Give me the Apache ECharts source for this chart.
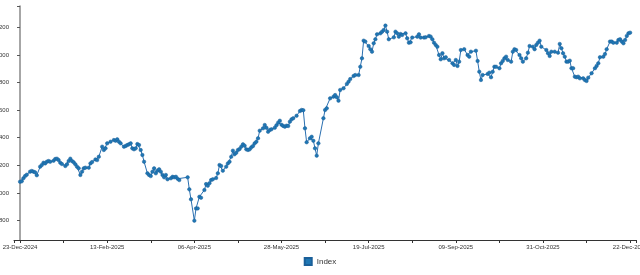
<!DOCTYPE html>
<html>
<head>
<meta charset="utf-8">
<script src="https://cdn.jsdelivr.net/npm/echarts@6/dist/echarts.min.js"></script>
<style>html,body{margin:0;padding:0;background:#fff}#c{width:640px;height:275px}</style>
</head>
<body>
<div id="c"></div>
<script>
// Days since 23-Dec-2024 for each observation
const days = [0,1,2,3,4,6,7,8,9,10,
12,13,14,15,16,17,18,20,21,22,
23,24,25,27,28,29,30,31,32,33,
34,35,36,37,38,39,41,42,43,45,
46,47,49,50,51,52,54,56,57,58,
59,60,62,63,64,65,66,67,68,69,
70,71,72,73,74,76,77,78,79,80,
81,82,83,84,85,86,87,88,90,91,
92,93,94,95,100,101,102,104,105,106,
107,108,110,111,112,113,114,115,117,118,
119,120,121,123,124,125,126,127,128,129,
130,131,132,133,134,135,136,137,138,139,
140,141,142,143,145,146,147,148,149,150,
152,153,154,155,156,157,158,159,160,161,
162,163,165,167,168,169,170,171,173,174,
175,176,177,178,181,182,183,185,187,188,
189,190,191,193,195,196,197,199,200,202,
203,204,205,206,208,209,210,211,212,213,
215,216,217,218,219,220,223,224,225,226,
227,228,230,231,232,233,234,237,238,239,
241,242,244,245,246,247,248,249,250,251,
252,253,254,256,258,259,260,261,262,263,
265,267,268,269,272,273,274,275,276,279,
280,281,282,283,284,286,287,288,289,290,
291,293,294,295,296,298,299,300,302,303,
304,306,307,308,309,310,311,314,315,316,
317,319,321,322,323,324,325,326,327,328,
329,330,331,332,333,334,336,337,338,339,
341,343,344,345,346,348,349,350,352,353,
354,356,357,358,359,360,361,362,363,364];

const indexValues = [5081,5084,5106,5122,5132,5154,5159,5154,5149,5128,
5190,5202,5219,5214,5226,5231,5226,5233,5246,5248,
5238,5219,5209,5195,5207,5231,5248,5231,5222,5207,
5190,5178,5130,5154,5178,5183,5183,5214,5224,5243,
5238,5262,5335,5311,5323,5359,5371,5383,5378,5388,
5371,5359,5335,5340,5347,5352,5359,5323,5316,5323,
5354,5347,5311,5275,5226,5142,5130,5122,5154,5178,
5142,5161,5171,5154,5130,5113,5130,5099,5106,5117,
5113,5117,5103,5093,5113,5026,4954,4799,4888,4888,
4972,4965,5021,5064,5052,5070,5093,5099,5108,5142,
5202,5195,5161,5190,5214,5226,5262,5306,5280,5291,
5311,5318,5335,5352,5342,5316,5311,5316,5330,5340,
5359,5371,5396,5451,5468,5492,5472,5443,5456,5461,
5472,5490,5509,5523,5494,5485,5480,5487,5485,5516,
5533,5541,5559,5593,5601,5599,5468,5367,5396,5407,
5378,5323,5270,5359,5541,5601,5613,5685,5697,5709,
5693,5668,5746,5758,5789,5806,5825,5847,5854,5854,
5914,5975,6103,6096,6064,6041,6023,6084,6113,6149,
6156,6168,6180,6212,6168,6113,6127,6168,6156,6132,
6151,6144,6156,6120,6088,6091,6125,6132,6149,6125,
6125,6127,6137,6132,6113,6088,6072,6059,5999,5968,
6012,5975,5983,5963,5939,5927,5963,5920,5951,6035,
6041,5999,5987,6023,6030,5956,5878,5818,5854,5862,
5871,5838,5878,5914,5914,5903,5939,5956,5975,5987,
5963,5951,6023,6041,6035,5999,5975,5951,5975,6016,
6064,6059,6041,6072,6088,6103,6059,6035,6012,5992,
6023,6023,6016,6079,6048,6012,5987,5951,5951,5958,
5903,5903,5842,5838,5842,5830,5830,5818,5811,5835,
5867,5903,5920,5939,5983,5987,6006,6041,6096,6096,
6088,6088,6108,6113,6096,6084,6108,6137,6156,6161];

const xMin = -3.6, xMax = 367.5;
const xTickDays = [0,26,52,78,104,130,156,182,208,234,260,286,312,338,364];
const xLabelDays = [0,52,104,156,208,260,312,364];
const yMin = 4659, yMax = 6354;
const yTicks = [4800,5000,5200,5400,5600,5800,6000,6200];

const baseUTC = Date.UTC(2024, 11, 23);
const MON = ['Jan','Feb','Mar','Apr','May','Jun','Jul','Aug','Sep','Oct','Nov','Dec'];
function fmtDay(d) {
  const dt = new Date(baseUTC + Math.round(d) * 86400000);
  const dd = String(dt.getUTCDate()).padStart(2, '0');
  return dd + '-' + MON[dt.getUTCMonth()] + '-' + dt.getUTCFullYear();
}

const FONT = 'Liberation Sans, Arial, sans-serif';
const chart = echarts.init(document.getElementById('c'), null, {renderer: 'canvas'});
chart.setOption({
  animation: false,
  grid: {left: 14, right: 4, top: 6, bottom: 35, containLabel: false, outerBoundsMode: 'none'},
  legend: {
    data: ['Index'], bottom: 4, left: 'center', icon: 'rect',
    itemWidth: 7, itemHeight: 7, itemGap: 5,
    textStyle: {fontSize: 8, color: '#333', fontFamily: FONT}
  },
  xAxis: {
    type: 'value', min: xMin, max: xMax,
    axisLine: {show: true, onZero: false, lineStyle: {color: '#333', width: 1}},
    axisTick: {show: true, length: 3, lineStyle: {color: '#333'}, customValues: [xMin].concat(xTickDays, [xMax])},
    axisLabel: {
      customValues: xLabelDays, formatter: v => fmtDay(v), fontSize: 6, color: '#333', margin: 4,
      fontFamily: FONT, hideOverlap: false
    },
    splitLine: {show: false}
  },
  yAxis: {
    type: 'value', min: yMin, max: yMax,
    axisLine: {show: true, lineStyle: {color: '#888', width: 1.5}},
    axisTick: {show: true, length: 3, lineStyle: {color: '#555'}, customValues: yTicks.concat([yMax])},
    axisLabel: {
      customValues: yTicks, formatter: v => String(v), fontSize: 6, color: '#333', margin: 5,
      fontFamily: FONT
    },
    splitLine: {show: false}
  },
  series: [{
    name: 'Index', type: 'line',
    data: days.map((d, i) => [d, indexValues[i]]),
    symbol: 'circle', symbolSize: 3.5, showAllSymbol: true,
    lineStyle: {color: '#2a6fb0', width: 1},
    itemStyle: {color: '#1f77b4', borderColor: '#1a5f99', borderWidth: 0.5}
  }]
});
</script>
</body>
</html>
